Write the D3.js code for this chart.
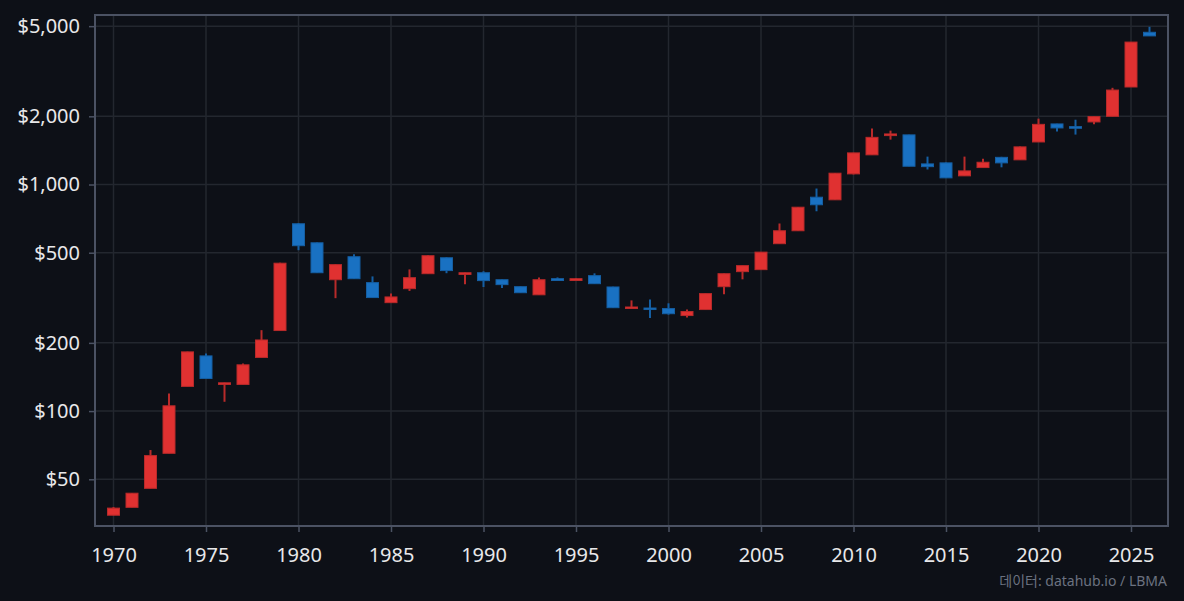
<!DOCTYPE html>
<html>
<head>
<meta charset="utf-8">
<script src="https://cdn.jsdelivr.net/npm/d3@7"></script>
<style>
  html, body { margin: 0; padding: 0; background: #0d1017; }
  svg { display: block; }
</style>
</head>
<body>
<div id="chart"></div>
<script>
// 연도별 금 가격 (USD/oz) - 시가, 고가, 저가, 종가
const years = [1970,1971,1972,1973,1974,1975,1976,1977,1978,1979,
  1980,1981,1982,1983,1984,1985,1986,1987,1988,1989,
  1990,1991,1992,1993,1994,1995,1996,1997,1998,1999,
  2000,2001,2002,2003,2004,2005,2006,2007,2008,2009,
  2010,2011,2012,2013,2014,2015,2016,2017,2018,2019,
  2020,2021,2022,2023,2024,2025,2026];
const opens = [34.7,37.6,45.6,65.1,128.5,175.2,131.1,131.1,172.5,226.7,
  671,553,380,480,369,301,347,404,475,401,
  408,380,354,326,384,377,396,353,286,285,
  283.4,264,280.6,354,412.5,421,548,625,879,856,
  1114,1352,1644,1656,1233,1246,1092,1188,1318,1285,
  1541,1851,1801,1889,2000,2694,4698];
const highs = [37.7,43.5,67.3,119.7,183,179.5,133.6,162,227.6,452,
  675,555,445,491.7,393,330,422,487,477,409,
  414,381,355,389,389,386,405.5,354,308,311,
  299,281,331,405,438.5,504,673,796,960,1124,
  1380,1765,1729,1660,1328,1250,1328,1298,1325,1470,
  1953,1855,1932,1998,2672,4253,4967];
const lows = [34.7,37.6,45.6,65.1,128.5,139.3,109.9,131.1,172.5,226.7,
  513,408,315,384,317,301,339,404,406,363,
  352.8,349,333,326,377,375,365,286,286,257.6,
  266.5,259,280.6,327.6,381.5,421,548,625,762,856,
  1108,1352,1578,1204,1165,1070,1092,1188,1191,1285,
  1541,1712,1661,1843,2000,2694,4528];
const closes = [37.3,43.4,63.6,105.5,182.5,139.3,133.3,160,206,449.5,
  537,408,443,384,317,319,388,485,417,408,
  376.6,361.5,333,380,377,384,365,286,288,281,
  269,275,330,404,438.5,503,625,794,814,1122,
  1379,1615,1672,1204,1199,1070,1148.5,1254,1246,1466,
  1843,1777,1771,1994,2612,4253,4528];

const yTicks = [50, 100, 200, 500, 1000, 2000, 5000];
const xTicks = [1970,1975,1980,1985,1990,1995,2000,2005,2010,2015,2020,2025];
const xDomain = [1969, 2027];
const yDomain = [31.1, 5600];

const data = years.map((y, i) => ({
  year: y, open: opens[i], high: highs[i], low: lows[i], close: closes[i]
}));

const W = 1184, H = 601;
const margin = { top: 15, right: 16, bottom: 75, left: 95 };

const svg = d3.select("#chart").append("svg")
  .attr("width", W).attr("height", H)
  .style("background", "#0d1017");

const x = d3.scaleLinear().domain(xDomain).range([margin.left, W - margin.right]);
const y = d3.scaleLog().domain(yDomain).range([H - margin.bottom, margin.top]);

const font = "'Noto Sans', 'Noto Sans CJK KR', sans-serif";

// 격자선
svg.append("g").selectAll("line.gy")
  .data(yTicks).enter().append("line")
  .attr("x1", margin.left).attr("x2", W - margin.right)
  .attr("y1", d => y(d)).attr("y2", d => y(d))
  .attr("stroke", "#23272f").attr("stroke-width", 1.5);

svg.append("g").selectAll("line.gx")
  .data(xTicks).enter().append("line")
  .attr("y1", margin.top).attr("y2", H - margin.bottom)
  .attr("x1", d => x(d)).attr("x2", d => x(d))
  .attr("stroke", "#23272f").attr("stroke-width", 1.5);

// 축
const yAxis = svg.append("g")
  .attr("transform", `translate(${margin.left},0)`)
  .call(d3.axisLeft(y).tickValues(yTicks).tickSize(6).tickPadding(9)
    .tickFormat(d => "$" + d3.format(",")(d)));
const xAxis = svg.append("g")
  .attr("transform", `translate(0,${H - margin.bottom})`)
  .call(d3.axisBottom(x).tickValues(xTicks).tickSize(6).tickPadding(16)
    .tickFormat(d3.format("d")));

[yAxis, xAxis].forEach(ax => {
  ax.select(".domain").remove();
  ax.selectAll(".tick line").attr("stroke", "#4b5263").attr("stroke-width", 1.5);
  ax.selectAll(".tick text")
    .attr("fill", "#e8e8ea")
    .style("font-family", font)
    .style("font-size", "20px");
});

// 프레임
svg.append("rect")
  .attr("x", margin.left).attr("y", margin.top)
  .attr("width", W - margin.left - margin.right)
  .attr("height", H - margin.top - margin.bottom)
  .attr("fill", "none").attr("stroke", "#4b5263").attr("stroke-width", 2);

// 캔들
const bodyW = 12;
const upFill = "#e03131", upStroke = "#b82a2a";
const downFill = "#1971c2", downStroke = "#155fa3";

const candles = svg.append("g").selectAll("g.candle")
  .data(data).enter().append("g").attr("class", "candle");

candles.append("line")
  .attr("x1", d => x(d.year)).attr("x2", d => x(d.year))
  .attr("y1", d => y(d.high)).attr("y2", d => y(d.low))
  .attr("stroke", d => d.close >= d.open ? upStroke : downStroke)
  .attr("stroke-width", 2);

candles.append("rect")
  .attr("x", d => x(d.year) - bodyW / 2)
  .attr("y", d => y(Math.max(d.open, d.close)))
  .attr("width", bodyW)
  .attr("height", d => Math.max(1.5, y(Math.min(d.open, d.close)) - y(Math.max(d.open, d.close))))
  .attr("fill", d => d.close >= d.open ? upFill : downFill)
  .attr("stroke", d => d.close >= d.open ? upStroke : downStroke)
  .attr("stroke-width", 1);

// 출처
svg.append("text")
  .attr("x", W - 17).attr("y", 586)
  .attr("text-anchor", "end")
  .attr("fill", "#6b7280")
  .style("font-family", font)
  .style("font-size", "14px")
  .text("데이터: datahub.io / LBMA");
</script>
</body>
</html>
